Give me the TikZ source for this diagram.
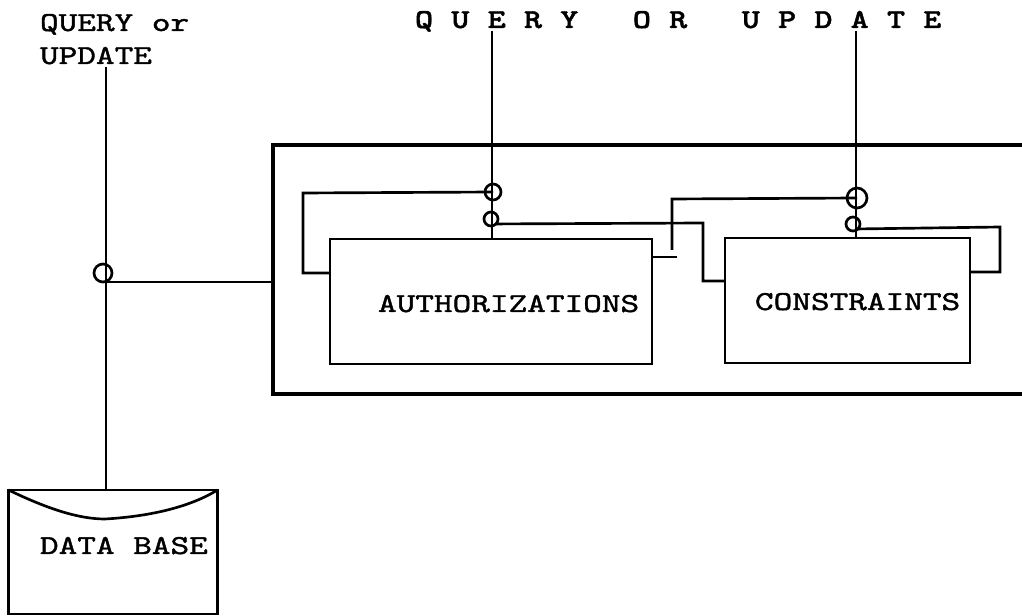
\documentclass[tikz,border=0pt]{standalone}
\usepackage{fontspec}
\newfontfamily\tw{lmmono10-regular.otf}[FakeStretch=1.3, FakeBold=1.5, BoldFont=lmmonolt10-bold.otf, BoldFeatures={FakeStretch=1.265}]
\begin{document}
\begin{tikzpicture}[x=0.75pt,y=-0.75pt,
  lbl/.style={font={\tw\fontsize{20.5pt}{24pt}\selectfont}, inner sep=0pt, outer sep=0pt},
  hdr/.style={font={\tw\bfseries\fontsize{20.5pt}{24pt}\selectfont}, inner sep=0pt, outer sep=0pt},
  box/.style={draw, line width=2.1pt, inner sep=0pt, outer sep=0pt},
  frame/.style={line width=2.5pt},
  conn/.style={line width=2pt},
  feed/.style={line width=1.2pt},
  ring/.style={draw, circle, line width=2pt, inner sep=0pt, outer sep=0pt}]
\useasboundingbox (0,0) rectangle (1022,616);

% texts
\node[lbl, anchor=base west] (q1) at (40,31) {QUERY or};
\node[lbl, anchor=base west] (q2) at (40,64) {UPDATE};
\node[hdr, anchor=base west] (q3) at (415,28) {Q~U~E~R~Y~~~O~R~~~U~P~D~A~T~E};

% boxes
\node[box, minimum width=241.5pt, minimum height=93.75pt] (auth) at (491,301.5) {};
\node[box, minimum width=183.75pt, minimum height=93.75pt] (cons) at (847.5,300.5) {};
\node[box, minimum width=156.75pt, minimum height=93pt] (db) at (113,552) {};
\node[lbl, anchor=base west] (authT) at (378,312) {AUTHORIZATIONS};
\node[lbl, anchor=base west] (consT) at (755,310) {CONSTRAINTS};
\node[lbl, anchor=base west] (dbT) at (40,554) {DATA BASE};
\draw[line width=2pt] (db.north west) .. controls (50,510) and (80,519) .. (105,519)
  .. controls (140,517) and (185,510) .. (db.north east);

% outer frame (open to the right)
\coordinate (oTL) at (273,145);
\coordinate (oTR) at (1024,145);
\coordinate (oBL) at (273,394);
\coordinate (oBR) at (1024,394);
\draw[frame] (oTR) -- (oTL) -- (oBL) -- (oBR);

% junction circles
\node[ring, minimum size=13.5pt] (c0) at (103,273) {};
\node[ring, minimum size=12pt] (c1) at (493,192) {};
\node[ring, minimum size=10.5pt] (c2) at (491,219) {};
\node[ring, minimum size=15pt] (c3) at (857,198) {};
\node[ring, minimum size=10.5pt] (c4) at (853,224) {};

% left feed: query/update to data base
\coordinate (in0) at (106,67);
\draw[feed] (in0) -- (db.north -| in0);
\draw[conn] (c0.south) -- (c0.south -| oTL);

% top feeds
\coordinate (in1) at (492,31);
\coordinate (in2) at (856,31);
\draw[feed] (in1) -- (c1.north -| in1);
\draw[conn] (c1.north -| in1) -- (auth.north -| in1);
\draw[feed] (in2) -- (c3.north -| in2);
\draw[conn] (c3.north -| in2) -- (cons.north -| in2);

% authorizations loop
\draw[conn] (c1.center) -- (303,193) -- (303,273) -- (auth.west |- 303,273);
\draw[conn] (c2.south east) -- (703,223) -- (703,281) -- (cons.west |- 703,281);
\coordinate (aout) at (677,257);
\draw[conn] (auth.east |- aout) -- (aout);
\draw[conn] (672,250) -- (672,199) -- (c3.center);

% constraints loop
\draw[conn] (c4.south east) -- (1000,227) -- (1000,272) -- (cons.east |- 1000,272);
\end{tikzpicture}
\end{document}
